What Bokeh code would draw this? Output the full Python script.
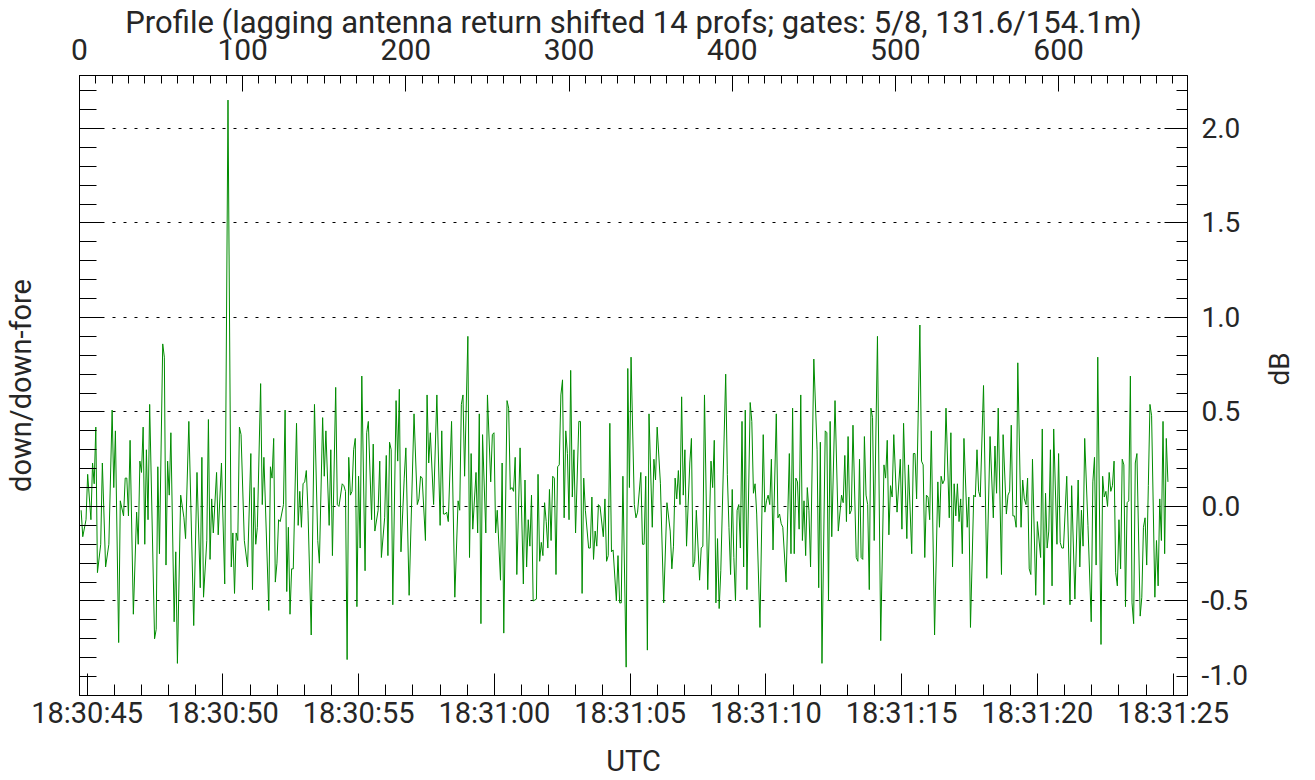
import math
from bokeh.plotting import figure
from bokeh.models import Range1d, LinearAxis, FixedTicker, Grid, CustomJSTickFormatter
from bokeh.embed import file_html
from bokeh.resources import INLINE

# ---- data (profile index, down/down-fore ratio in dB) ----
profile = [
    1, 2, 4, 5, 7, 8, 9, 10, 11, 13,
    14, 16, 18, 20, 21, 22, 24, 25, 27, 28,
    29, 30, 31, 33, 35, 36, 37, 38, 39, 40,
    41, 42, 43, 46, 47, 48, 49, 51, 52, 53,
    54, 55, 56, 58, 59, 60, 62, 64, 65, 67,
    70, 72, 74, 75, 76, 78, 79, 80, 81, 82,
    84, 85, 87, 89, 91, 93, 94, 95, 96, 97,
    98, 99, 101, 103, 105, 106, 107, 108, 109, 111,
    112, 113, 116, 117, 118, 119, 120, 121, 122, 123,
    125, 126, 127, 128, 129, 130, 131, 133, 134, 135,
    136, 137, 138, 139, 140, 142, 144, 146, 147, 149,
    150, 151, 153, 154, 155, 157, 158, 159, 161, 162,
    163, 164, 165, 166, 167, 168, 169, 170, 171, 172,
    173, 175, 176, 177, 179, 180, 181, 183, 184, 185,
    187, 188, 189, 190, 191, 192, 194, 195, 196, 197,
    199, 200, 202, 205, 207, 208, 209, 210, 212, 213,
    214, 215, 217, 219, 221, 222, 223, 224, 225, 226,
    228, 230, 232, 233, 234, 235, 236, 238, 239, 240,
    241, 243, 244, 245, 246, 247, 249, 250, 252, 253,
    254, 255, 256, 258, 259, 260, 262, 263, 264, 265,
    266, 267, 268, 270, 272, 273, 274, 275, 276, 277,
    278, 280, 281, 282, 283, 284, 285, 286, 287, 288,
    289, 290, 291, 292, 293, 294, 295, 296, 297, 298,
    299, 300, 301, 302, 303, 304, 306, 307, 308, 309,
    310, 312, 313, 314, 315, 316, 317, 318, 319, 321,
    322, 323, 324, 325, 326, 327, 329, 330, 331, 332,
    333, 335, 336, 337, 338, 340, 341, 342, 344, 345,
    346, 347, 348, 349, 351, 352, 353, 354, 356, 358,
    360, 362, 363, 364, 365, 366, 367, 368, 369, 370,
    371, 372, 374, 375, 376, 377, 378, 380, 381, 382,
    383, 385, 387, 388, 389, 390, 391, 392, 393, 396,
    397, 398, 399, 400, 401, 402, 403, 404, 405, 406,
    407, 408, 409, 411, 412, 413, 414, 415, 417, 419,
    420, 421, 422, 423, 424, 425, 427, 428, 429, 430,
    431, 433, 435, 436, 437, 438, 439, 440, 441, 442,
    443, 444, 445, 446, 447, 448, 450, 452, 453, 454,
    455, 457, 458, 459, 460, 461, 463, 465, 467, 468,
    469, 470, 471, 472, 473, 474, 476, 477, 478, 479,
    480, 481, 482, 483, 484, 485, 486, 487, 489, 491,
    493, 494, 495, 496, 497, 498, 499, 501, 503, 504,
    505, 507, 508, 510, 511, 512, 513, 515, 516, 517,
    518, 519, 520, 521, 522, 524, 526, 527, 528, 529,
    530, 531, 533, 534, 535, 536, 537, 538, 539, 540,
    541, 542, 544, 545, 546, 548, 549, 550, 551, 552,
    554, 556, 558, 560, 561, 562, 563, 565, 566, 568,
    569, 570, 571, 572, 573, 574, 575, 577, 578, 579,
    580, 581, 582, 583, 584, 586, 587, 589, 590, 591,
    592, 593, 594, 595, 596, 597, 599, 600, 601, 602,
    603, 605, 607, 608, 610, 612, 613, 614, 615, 616,
    618, 620, 621, 622, 623, 624, 626, 627, 628, 629,
    630, 631, 632, 633, 634, 635, 636, 637, 638, 639,
    640, 641, 642, 643, 644, 645, 646, 647, 648, 650,
    651, 652, 653, 654, 655, 656, 657, 659, 660, 661,
    662, 663, 664, 665, 666, 667,
]

ratio_db = [
    -0.02, -0.16, -0.07, 0.17, -0.07, 0.23, 0.12, 0.42, -0.35, -0.20,
    0.23, -0.32, -0.20, 0.51, 0.10, 0.40, -0.72, 0.03, -0.05, 0.15,
    0.15, -0.05, 0.35, -0.57, -0.03, -0.20, 0.24, 0.18, 0.42, -0.20,
    0.30, -0.07, 0.54, -0.70, -0.65, 0.21, -0.25, 0.86, 0.79, -0.31,
    0.24, 0.06, 0.39, -0.61, -0.24, -0.83, 0.06, -0.06, -0.17, 0.45,
    -0.63, 0.18, -0.43, 0.26, -0.48, -0.18, 0.46, -0.28, 0.04, -0.14,
    0.18, -0.15, 0.23, -0.41, 2.15, -0.32, -0.14, -0.46, -0.14, -0.18,
    0.42, 0.38, -0.18, -0.32, 0.28, -0.44, 0.10, -0.20, -0.11, 0.65,
    0.01, 0.26, -0.55, 0.21, 0.15, 0.36, -0.40, -0.30, -0.07, -0.08,
    0.01, 0.51, -0.45, -0.11, -0.57, -0.33, -0.33, 0.44, -0.10, 0.08,
    -0.11, 0.12, 0.13, 0.19, -0.02, -0.68, 0.54, -0.18, -0.30, 0.47,
    0.16, 0.40, -0.10, 0.30, -0.26, 0.63, 0.01, 0.00, 0.12, 0.11,
    0.08, -0.81, 0.26, 0.06, 0.08, 0.30, 0.36, -0.53, 0.16, -0.22,
    0.69, -0.34, 0.39, 0.45, -0.07, 0.33, -0.13, -0.02, 0.24, -0.27,
    -0.06, 0.27, -0.26, 0.34, 0.30, -0.52, 0.56, 0.24, 0.62, -0.24,
    0.15, 0.31, -0.47, 0.49, 0.01, 0.04, 0.16, 0.15, -0.18, 0.59,
    0.23, 0.39, 0.01, 0.59, -0.10, 0.40, -0.04, -0.04, -0.03, -0.08,
    0.45, -0.48, 0.03, -0.02, 0.54, 0.59, 0.16, 0.90, -0.27, 0.28,
    -0.12, 0.18, -0.14, 0.49, -0.62, 0.38, -0.14, 0.59, 0.13, 0.38,
    0.39, -0.14, -0.02, -0.39, 0.23, -0.67, 0.56, 0.52, 0.09, 0.10,
    0.08, 0.26, -0.36, 0.31, -0.41, 0.14, -0.32, -0.07, -0.21, 0.06,
    -0.50, -0.49, 0.17, -0.29, -0.19, -0.26, 0.02, -0.08, -0.22, 0.09,
    -0.18, 0.16, 0.15, -0.36, 0.21, 0.22, 0.59, 0.67, -0.06, 0.40,
    0.28, -0.07, 0.72, 0.05, 0.30, -0.14, 0.45, 0.45, -0.46, 0.15,
    -0.02, -0.22, -0.22, 0.05, -0.28, -0.13, -0.21, 0.01, 0.00, -0.16,
    0.04, -0.29, -0.26, 0.44, -0.24, -0.23, -0.50, -0.26, -0.51, -0.51,
    0.16, -0.85, 0.73, 0.10, 0.79, 0.01, -0.06, -0.03, 0.18, -0.20,
    -0.20, 0.16, -0.76, 0.49, -0.11, 0.25, 0.14, 0.42, 0.12, -0.51,
    0.02, -0.13, -0.33, -0.21, 0.15, 0.04, 0.19, 0.01, 0.58, 0.06,
    0.30, -0.21, 0.23, 0.36, -0.32, -0.29, -0.02, -0.39, -0.22, -0.21,
    0.59, -0.44, 0.24, 0.10, 0.35, -0.51, -0.17, -0.54, -0.34, 0.70,
    0.17, -0.11, -0.36, 0.09, -0.27, -0.50, -0.02, 0.01, -0.22, 0.45,
    -0.32, 0.51, -0.44, 0.55, 0.45, 0.07, 0.12, -0.04, -0.64, 0.38,
    -0.03, 0.03, 0.06, 0.01, 0.25, -0.23, 0.49, -0.06, -0.04, -0.09,
    -0.11, -0.40, 0.28, -0.25, 0.52, -0.25, 0.15, 0.13, -0.12, 0.59,
    -0.18, 0.03, -0.26, 0.10, -0.02, -0.32, 0.78, 0.30, -0.43, 0.34,
    -0.83, 0.40, 0.39, -0.50, 0.45, -0.16, 0.56, -0.13, 0.06, 0.02,
    0.27, -0.08, 0.37, -0.04, -0.02, 0.43, -0.27, -0.29, 0.25, -0.27,
    -0.28, 0.37, 0.06, 0.01, -0.44, 0.52, 0.47, -0.18, 0.90, -0.71,
    0.22, 0.15, 0.35, -0.15, 0.11, 0.05, 0.38, -0.03, 0.25, -0.12,
    0.44, -0.17, 0.22, -0.25, 0.28, 0.28, 0.04, 0.96, 0.24, 0.22,
    -0.27, 0.06, 0.05, -0.07, 0.40, -0.68, 0.13, -0.11, 0.16, 0.12,
    0.14, 0.52, -0.06, 0.39, -0.32, 0.12, -0.05, 0.12, -0.08, 0.04,
    -0.25, 0.36, -0.11, 0.05, -0.64, 0.06, 0.05, 0.30, 0.08, 0.05,
    0.64, -0.38, 0.37, -0.06, 0.32, 0.07, 0.52, -0.36, 0.38, -0.04,
    0.06, 0.08, 0.43, -0.05, -0.05, -0.11, 0.76, -0.11, 0.14, 0.04,
    0.01, 0.15, -0.33, -0.36, 0.25, -0.47, -0.08, -0.27, 0.41, -0.52,
    0.07, -0.22, -0.13, 0.30, -0.42, 0.41, -0.20, 0.28, -0.19, -0.22,
    -0.22, 0.16, -0.52, 0.11, -0.49, 0.14, -0.32, -0.02, -0.21, 0.36,
    -0.10, -0.61, 0.13, 0.26, -0.31, 0.79, -0.73, 0.16, 0.05, 0.08,
    0.00, 0.18, 0.08, 0.11, 0.24, -0.35, -0.42, -0.07, -0.33, 0.25,
    0.22, -0.53, 0.02, 0.03, 0.69, -0.51, -0.62, 0.23, 0.28, -0.58,
    -0.48, -0.11, -0.06, -0.31, 0.11, 0.54, 0.48, -0.48, -0.18, -0.42,
    0.04, -0.18, 0.45, -0.25, 0.36, 0.13,
]
assert len(profile) == len(ratio_db)

# ---- axes content ----
PROFILE_END = 679                 # last profile shown on the top axis
T0 = 44.72                        # seconds after 18:30:00 at profile 0
SEC_PER_PROFILE = 0.0601
time_ticks = [45, 50, 55, 60, 65, 70, 75, 80, 85]
time_labels = ["18:30:45", "18:30:50", "18:30:55", "18:31:00", "18:31:05",
               "18:31:10", "18:31:15", "18:31:20", "18:31:25"]
profile_ticks = [0, 100, 200, 300, 400, 500, 600]
db_ticks = [-1.0, -0.5, 0.0, 0.5, 1.0, 1.5, 2.0]
db_labels = ["-1.0", "-0.5", "0.0", "0.5", "1.0", "1.5", "2.0"]
DB_MIN, DB_MAX = -1.0, 2.28

TITLE = "Profile (lagging antenna return shifted 14 profs; gates: 5/8, 131.6/154.1m)"
FONT = "Roboto"
TEXT = "#262626"
LINE_GREEN = "#008c00"

p = figure(width=1315, height=780, output_backend="svg", toolbar_location=None,
           x_range=Range1d(0, PROFILE_END), y_range=Range1d(DB_MIN, DB_MAX),
           x_axis_type=None, y_axis_type=None,
           min_border_left=60, min_border_right=126, min_border_top=75, min_border_bottom=85,
           background_fill_color="white", border_fill_color="white",
           outline_line_color="black")
p.extra_x_ranges = {"time": Range1d(T0, T0 + PROFILE_END * SEC_PER_PROFILE)}


def lookup_formatter(vals, texts, raise_first=False):
    # raise_first: the lowest label is lifted above its tick (as in the reference)
    return CustomJSTickFormatter(args=dict(tick_vals=vals, tick_texts=texts, raise_first=raise_first),
                                 code="""
        for (let i = 0; i < tick_vals.length; i++) {
            if (Math.abs(tick_vals[i] - tick) < 1e-9) {
                return (raise_first && i == 0) ? tick_texts[i] + "\\n" : tick_texts[i];
            }
        }
        return '';
    """)


def style(ax, major_in, minor_in, size="30px", label_size="29px"):
    ax.axis_line_color = "black"
    ax.axis_line_width = 1
    ax.major_tick_line_color = "black"
    ax.minor_tick_line_color = "black"
    ax.major_tick_in = major_in
    ax.major_tick_out = 0
    ax.minor_tick_in = minor_in
    ax.minor_tick_out = 0
    ax.major_label_text_font = FONT
    ax.major_label_text_font_size = size
    ax.major_label_text_color = TEXT
    ax.axis_label_text_font = FONT
    ax.axis_label_text_font_size = label_size
    ax.axis_label_text_font_style = "normal"
    ax.axis_label_text_color = TEXT


db_minor = [round(DB_MIN + 0.1 * i, 1) for i in range(33)]

top = LinearAxis(ticker=FixedTicker(ticks=profile_ticks, minor_ticks=list(range(0, PROFILE_END, 10))),
                 axis_label=TITLE)
style(top, 16, 8, size="30px", label_size="31px")
top.major_label_standoff = 16
top.axis_label_standoff = -5
p.add_layout(top, "above")

bottom = LinearAxis(x_range_name="time",
                    ticker=FixedTicker(ticks=time_ticks, minor_ticks=list(range(45, 86))),
                    formatter=lookup_formatter(time_ticks, time_labels),
                    axis_label="UTC")
style(bottom, 22, 11, size="29px")
bottom.major_label_standoff = 0
bottom.axis_label_standoff = 11
p.add_layout(bottom, "below")

left = LinearAxis(ticker=FixedTicker(ticks=db_ticks, minor_ticks=db_minor),
                  formatter=CustomJSTickFormatter(code="return '';"),
                  axis_label="down/down-fore")
style(left, 24, 17)
left.major_label_standoff = 0
left.axis_label_standoff = 42
p.add_layout(left, "left")

right = LinearAxis(ticker=FixedTicker(ticks=db_ticks, minor_ticks=db_minor),
                   formatter=lookup_formatter(db_ticks, db_labels, raise_first=True),
                   axis_label="dB")
style(right, 23, 11, size="28px", label_size="28px")
right.major_label_standoff = 14
right.axis_label_standoff = 28
right.axis_label_orientation = math.pi / 2
p.add_layout(right, "right")

grid = Grid(dimension=1, ticker=FixedTicker(ticks=db_ticks),
            grid_line_color="black", grid_line_dash="3 8", grid_line_width=1)
p.add_layout(grid)

p.line(profile, ratio_db, line_color=LINE_GREEN, line_width=1)

open("out.html", "w").write(file_html(p, INLINE))
